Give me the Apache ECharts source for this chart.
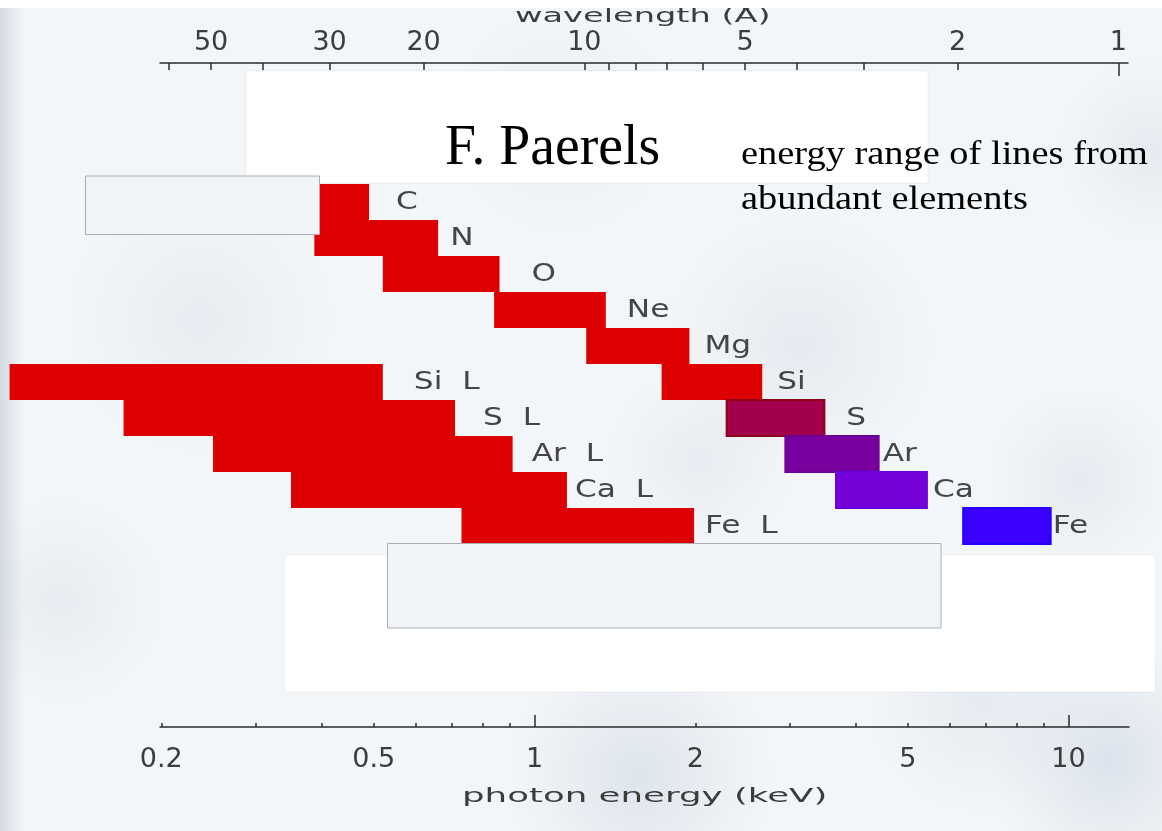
<!DOCTYPE html>
<html><head><meta charset="utf-8">
<script src="https://cdn.jsdelivr.net/npm/echarts@6/dist/echarts.min.js"></script>
<style>html,body{margin:0;padding:0;background:#f3f6f8;}#c{width:1162px;height:831px;}</style>
</head><body><div id="c"></div>
<script>
// ---------------- data ----------------
const elements = ['C', 'N', 'O', 'Ne', 'Mg', 'Si', 'S', 'Ar', 'Ca', 'Fe'];
const kLow  = [0.28, 0.387, 0.52, 0.84, 1.25, 1.73, 2.29, 2.95, 3.67, 6.35];
const kHigh = [0.49, 0.66, 0.86, 1.36, 1.95, 2.67, 3.49, 4.41, 5.43, 9.26];
const lElements = ['Si', 'S', 'Ar', 'Ca', 'Fe'];
const lLow  = [0.104, 0.17, 0.25, 0.35, 0.73];
const lHigh = [0.52, 0.71, 0.91, 1.15, 1.99];
const energyTicks = [0.2, 0.3, 0.4, 0.5, 0.6, 0.7, 0.8, 0.9, 1, 2, 3, 4, 5, 6, 7, 8, 9, 10];
const energyMajorTicks = [1, 10];
const energyLabels = [0.2, 0.5, 1, 2, 5, 10];
const wavelengthTicks = [60, 50, 40, 30, 20, 10, 9, 8, 7, 6, 5, 4, 3, 2, 1];
const wavelengthMajorTicks = [1];
const wavelengthLabels = [50, 30, 20, 10, 5, 2, 1];
const HC = 12.398; // keV * Angstrom

// ---------------- layout / style ----------------
const W = 1162;
const PX_1KEV = 534.5, PX_DECADE = 534;
const eAt = px => Math.pow(10, (px - PX_1KEV) / PX_DECADE);
const ROW_TOP = 184, ROW_H = 36;
const kLabelGap = {C: 27, N: 12, O: 32, Ne: 21, Mg: 15, Si: 15, S: 22, Ar: 4, Ca: 6, Fe: 2};
const lLabelGap = {Si: 31, S: 28, Ar: 19, Ca: 8, Fe: 11};
const RED = '#dd0000';
const kFill = {S: '#a2004c', Ar: '#78009f', Ca: '#7600d8', Fe: '#3a00ff'};
const kStroke = {S: '#8c0018', Ar: '#6c0090', Ca: '#6a00dc', Fe: '#2400ff'};
const LABEL_FONT = '24px "DejaVu Sans"';
const LABEL_COLOR = '#454545';
const AXIS_COLOR = '#2b2b2b';

function makeRender(kind) {
  return function (params, api) {
    const row = api.value(0), lo = api.value(1), hi = api.value(2);
    const a = api.coord([lo, row]);
    const b = api.coord([hi, row]);
    const h = api.size([0, 1])[1];
    const name = elements[row];
    const isK = kind === 'K';
    const fill = isK && kFill[name] ? kFill[name] : RED;
    const stroke = isK && kStroke[name] ? kStroke[name] : null;
    const text = isK ? name : name + '  L';
    const gap = isK ? kLabelGap[name] : lLabelGap[name];
    return {
      type: 'group',
      children: [
        {
          type: 'rect',
          shape: {x: a[0], y: a[1] - h / 2, width: b[0] - a[0], height: h},
          style: stroke ? {fill: fill, stroke: stroke, lineWidth: 2} : {fill: fill}
        },
        {
          type: 'text',
          x: b[0] + gap, y: a[1] + 1, scaleX: 1.3,
          style: {text: text, fill: LABEL_COLOR, font: LABEL_FONT, align: 'left', verticalAlign: 'middle'}
        }
      ]
    };
  };
}

const fmt = v => String(+(+v).toPrecision(6));
const tickLabelStyle = {fontSize: 27, fontFamily: 'DejaVu Sans', color: '#3c3c3c'};

const blobs = [
  [640, 775, 130, 0.55], [1110, 760, 120, 0.6], [800, 345, 130, 0.35], [1080, 480, 90, 0.35],
  [200, 320, 130, 0.3], [560, 120, 110, 0.25], [980, 700, 110, 0.35], [60, 600, 100, 0.3],
  [700, 460, 90, 0.3], [1150, 150, 90, 0.35]
];

const graphicEls = [];
blobs.forEach(b => {
  graphicEls.push({
    type: 'circle', z: -10, silent: true,
    shape: {cx: b[0], cy: b[1], r: b[2]},
    style: {fill: new echarts.graphic.RadialGradient(0.5, 0.5, 0.5, [
      {offset: 0, color: 'rgba(205,214,228,' + b[3] + ')'},
      {offset: 1, color: 'rgba(205,214,228,0)'}
    ])}
  });
});
graphicEls.push(
  {type: 'rect', z: -9, silent: true, shape: {x: 0, y: 0, width: 24, height: 831},
   style: {fill: new echarts.graphic.LinearGradient(0, 0, 1, 0, [
     {offset: 0, color: 'rgba(200,207,218,0.7)'}, {offset: 1, color: 'rgba(200,207,218,0)'}])}},
  {type: 'rect', z: 50, silent: true, shape: {x: 0, y: 0, width: W, height: 8}, style: {fill: '#ffffff'}},
  {type: 'rect', z: 50, silent: true, shape: {x: 246, y: 71, width: 682, height: 112},
   style: {fill: '#ffffff', stroke: 'rgba(0,0,0,0.04)', lineWidth: 1}},
  {type: 'rect', z: 50, silent: true, shape: {x: 285, y: 555, width: 870, height: 137},
   style: {fill: '#ffffff', stroke: 'rgba(0,0,0,0.04)', lineWidth: 1}},
  {type: 'rect', z: 51, silent: true, shape: {x: 85.5, y: 176, width: 234, height: 58.5},
   style: {fill: '#f1f4f7', stroke: '#a9aeb4', lineWidth: 1}},
  {type: 'rect', z: 51, silent: true, shape: {x: 387.5, y: 543.5, width: 553.5, height: 84.5},
   style: {fill: '#f2f5f8', stroke: '#a9aeb4', lineWidth: 1}},
  {type: 'text', z: 60, silent: true, x: 445, y: 149, scaleX: 0.96,
   style: {text: 'F. Paerels', font: '58px "Liberation Serif"', fill: '#000', align: 'left', verticalAlign: 'middle'}},
  {type: 'text', z: 60, silent: true, x: 741, y: 155.2, scaleX: 1.13,
   style: {text: 'energy range of lines from', font: '34px "Liberation Serif"', fill: '#000', align: 'left', verticalAlign: 'middle'}},
  {type: 'text', z: 60, silent: true, x: 741, y: 200.2, scaleX: 1.13,
   style: {text: 'abundant elements', font: '34px "Liberation Serif"', fill: '#000', align: 'left', verticalAlign: 'middle'}},
  {type: 'text', z: 40, silent: true, x: 515, y: 17, scaleX: 1.68,
   style: {text: 'wavelength (\u00c5)', font: '20px "DejaVu Sans"', fill: '#3c3c3c', align: 'left', verticalAlign: 'middle'}},
  {type: 'text', z: 40, silent: true, x: 462, y: 796.5, scaleX: 1.78,
   style: {text: 'photon energy (keV)', font: '20px "DejaVu Sans"', fill: '#3c3c3c', align: 'left', verticalAlign: 'middle'}}
);

const chart = echarts.init(document.getElementById('c'), null, {renderer: 'canvas'});
chart.setOption({
  animation: false,
  backgroundColor: '#f3f6f8',
  grid: [
    {left: 0, width: W, top: ROW_TOP, height: ROW_H * elements.length, outerBoundsMode: 'none', containLabel: false},
    {left: 160, right: W - 1129, top: 700, height: 27, outerBoundsMode: 'none', containLabel: false},
    {left: 160, right: W - 1128, top: 63, height: 20, outerBoundsMode: 'none', containLabel: false}
  ],
  xAxis: [
    {gridIndex: 0, type: 'log', min: eAt(0), max: eAt(W), show: false},
    {gridIndex: 1, type: 'log', position: 'bottom', min: eAt(160), max: eAt(1129),
     axisLine: {show: true, onZero: false, lineStyle: {color: AXIS_COLOR, width: 1.5}},
     axisTick: {show: true, inside: true, length: 4, customValues: energyTicks, lineStyle: {color: AXIS_COLOR, width: 1.5}},
     axisLabel: Object.assign({show: true, customValues: energyLabels, formatter: fmt, margin: 19}, tickLabelStyle),
     splitLine: {show: false}, minorTick: {show: false}},
    {gridIndex: 1, type: 'log', position: 'bottom', min: eAt(160), max: eAt(1129),
     axisLine: {show: false, onZero: false},
     axisTick: {show: true, inside: true, length: 12, customValues: energyMajorTicks, lineStyle: {color: AXIS_COLOR, width: 1.5}},
     axisLabel: {show: false}, splitLine: {show: false}},
    {gridIndex: 2, type: 'log', position: 'top', inverse: true, min: HC / eAt(1128), max: HC / eAt(160),
     axisLine: {show: true, onZero: false, lineStyle: {color: AXIS_COLOR, width: 1.5}},
     axisTick: {show: true, inside: true, length: 7, customValues: wavelengthTicks, lineStyle: {color: AXIS_COLOR, width: 1.5}},
     axisLabel: Object.assign({show: true, customValues: wavelengthLabels, formatter: fmt, margin: 7}, tickLabelStyle),
     splitLine: {show: false}, minorTick: {show: false}},
    {gridIndex: 2, type: 'log', position: 'top', inverse: true, min: HC / eAt(1128), max: HC / eAt(160),
     axisLine: {show: false, onZero: false},
     axisTick: {show: true, inside: true, length: 13, customValues: wavelengthMajorTicks, lineStyle: {color: AXIS_COLOR, width: 1.5}},
     axisLabel: {show: false}, splitLine: {show: false}}
  ],
  yAxis: [
    {gridIndex: 0, type: 'category', data: elements, inverse: true, show: false},
    {gridIndex: 1, type: 'value', show: false},
    {gridIndex: 2, type: 'value', show: false}
  ],
  series: [
    {type: 'custom', name: 'K lines', xAxisIndex: 0, yAxisIndex: 0, z: 5, silent: true,
     renderItem: makeRender('K'), encode: {x: [1, 2], y: 0},
     data: elements.map((e, i) => [i, kLow[i], kHigh[i]])},
    {type: 'custom', name: 'L lines', xAxisIndex: 0, yAxisIndex: 0, z: 5, silent: true,
     renderItem: makeRender('L'), encode: {x: [1, 2], y: 0},
     data: lElements.map((e, i) => [elements.indexOf(e), lLow[i], lHigh[i]])}
  ],
  graphic: {elements: graphicEls}
});
</script>
</body></html>
